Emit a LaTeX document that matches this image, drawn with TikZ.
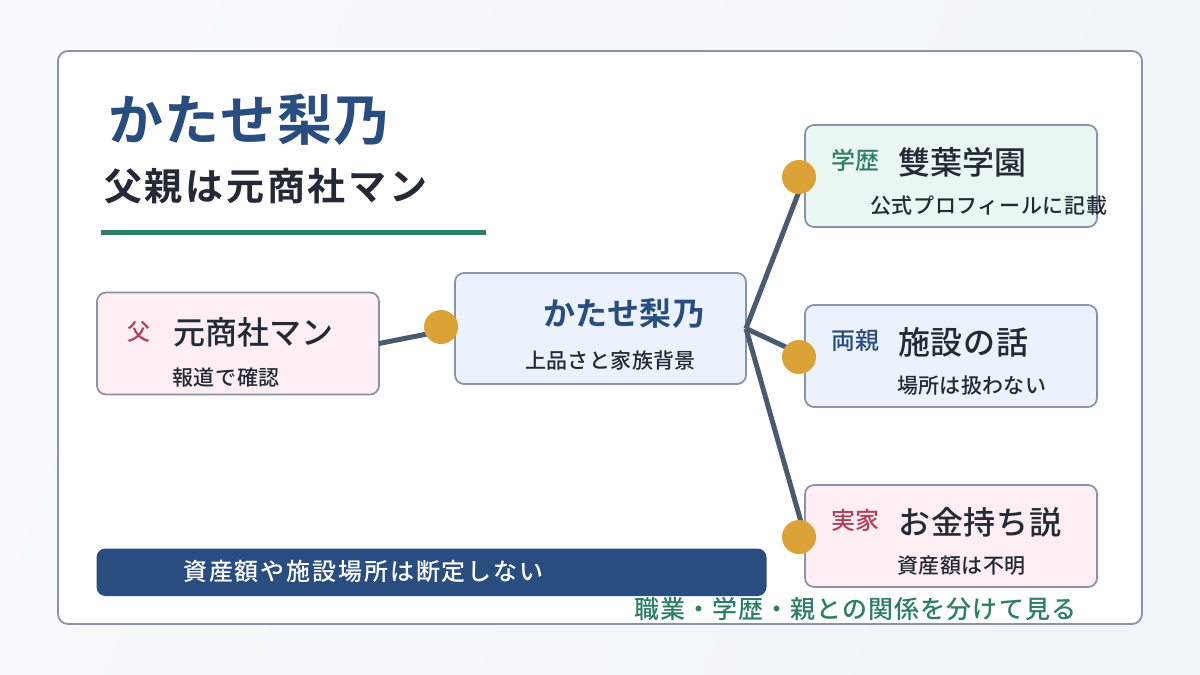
\documentclass[tikz,border=0pt]{standalone}
\usepackage{fontspec}
\setmainfont{Noto Sans CJK JP}
\newfontfamily\jpm{Noto Sans CJK JP Medium}
\newfontfamily\jpb{Noto Sans CJK JP Bold}
\usetikzlibrary{calc}
\definecolor{ink}{HTML}{232A35}
\definecolor{navy}{HTML}{2A4D7F}
\definecolor{teal}{HTML}{2E7D67}
\definecolor{rose}{HTML}{B0435C}
\definecolor{edge}{HTML}{8A94A6}
\definecolor{link}{HTML}{4A5B70}
\definecolor{gold}{HTML}{DBA337}
\definecolor{pinkbg}{HTML}{FCEEF2}
\definecolor{bluebg}{HTML}{EBF2FB}
\definecolor{greenbg}{HTML}{E9F6F1}
\definecolor{bgl}{HTML}{F8FAFB}
\definecolor{bgr}{HTML}{EFF5F8}
\tikzset{
 card/.style={draw=edge,line width=1.8pt,rounded corners=9pt,anchor=north west,inner sep=0pt,outer sep=0pt},
 dot/.style={circle,fill=gold,minimum size=34pt,inner sep=0pt},
 conn/.style={draw=link,line width=5pt},
 txt/.style={anchor=base west,inner sep=0pt,text=ink},
}
\newcommand{\fsm}[2]{\jpm\addfontfeature{LetterSpace=#2}\fontsize{#1}{#1}\selectfont}
\newcommand{\fsb}[2]{\jpb\addfontfeature{LetterSpace=#2}\fontsize{#1}{#1}\selectfont}
\begin{document}
\begin{tikzpicture}[x=1pt,y=-1pt]
\useasboundingbox (0,0) rectangle (1200,675);
\shade[left color=bgl,right color=bgr,shading angle=70] (0,0) rectangle (1200,675);
\node[card,fill=white,minimum width=1084pt,minimum height=573pt,rounded corners=10pt] (panel) at (58,51) {};
\node[txt,text=navy] (title) at (108,140.5) {\fsb{55}{2.5}かたせ梨乃};
\node[txt] (sub) at (104,200.5) {\fsb{38}{7.2}父親は元商社マン};
\fill[teal] (101,229.5) rectangle (486,235);
\node[card,fill=pinkbg,minimum width=282pt,minimum height=102pt] (father) at (97,292.5) {};
\node[card,fill=bluebg,minimum width=291pt,minimum height=111pt] (main) at (455,273) {};
\node[card,fill=greenbg,minimum width=292pt,minimum height=102pt] (school) at (805,125) {};
\node[card,fill=bluebg,minimum width=292pt,minimum height=102pt] (parents) at (805,305) {};
\node[card,fill=pinkbg,minimum width=292pt,minimum height=102pt] (home) at (805,485) {};
\draw[conn] (father.east) -- (main.west);
\draw[conn] (main.east) -- (school.west);
\draw[conn] (main.east) -- (parents.west);
\draw[conn] (main.east) -- (home.west);
\node[dot] (d0) at (441,327) {};
\node[dot] (d1) at (799,177) {};
\node[dot] (d2) at (799,357) {};
\node[dot] (d3) at (799,537) {};
\node[txt,text=rose] (t1) at (127,340) {\fsm{23}{0}父};
\node[txt] (t2) at (173,344.5) {\fsm{32}{0.5}元商社マン};
\node[txt] (t3) at (172,385) {\fsm{21}{3}報道で確認};
\node[txt,text=navy] (t4) at (543,325.5) {\fsb{32}{0.8}かたせ梨乃};
\node[txt] (t5) at (525,368.5) {\fsm{21}{1.8}上品さと家族背景};
\node[txt,text=teal] (t6) at (831,169) {\fsm{24}{0}学歴};
\node[txt] (t7) at (898,174.5) {\fsm{32}{0}雙葉学園};
\node[txt] (t8) at (870,213) {\fsm{21}{3}公式プロフィールに記載};
\node[txt,text=navy] (t9) at (831,349) {\fsm{24}{0}両親};
\node[txt] (t10) at (898,354.5) {\fsm{32}{2.4}施設の話};
\node[txt] (t11) at (897,393) {\fsm{21}{1.6}場所は扱わない};
\node[txt,text=rose] (t12) at (831,529) {\fsm{24}{0}実家};
\node[txt] (t13) at (898,534.5) {\fsm{32}{2.7}お金持ち説};
\node[txt] (t14) at (897,573) {\fsm{21}{2.2}資産額は不明};
\node[card,fill=navy,draw=none,minimum width=670pt,minimum height=47.5pt] (bar) at (96.5,548.5) {};
\node[txt,text=white] (t15) at (183,580.5) {\fsm{24}{7.8}資産額や施設場所は断定しない};
\node[txt,text=teal] (t16) at (634,618.5) {\fsm{25}{4.3}職業・学歴・親との関係を分けて見る};
\end{tikzpicture}
\end{document}
